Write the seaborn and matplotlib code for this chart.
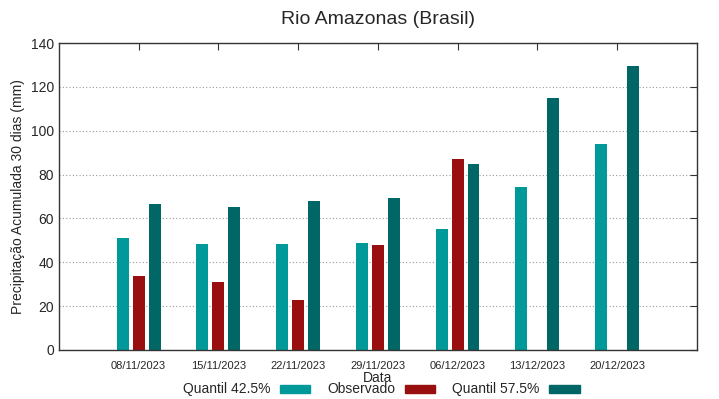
import seaborn as sns
import pandas as pd
import numpy as np
import matplotlib.pyplot as plt
from matplotlib.patches import Patch

datas = ["08/11/2023", "15/11/2023", "22/11/2023", "29/11/2023",
         "06/12/2023", "13/12/2023", "20/12/2023"]
q425 = [51.0, 48.3, 48.3, 48.6, 55.2, 74.5, 94.0]
observado = [33.7, 30.9, 22.8, 48.0, 87.0, np.nan, np.nan]
q575 = [66.5, 65.0, 68.0, 69.5, 84.7, 114.8, 129.4]
series = ["Quantil 42.5%", "Observado", "Quantil 57.5%"]
cores = ["#009999", "#990f0f", "#006666"]

df = pd.DataFrame({"Data": datas * 3,
                   "valor": q425 + observado + q575,
                   "serie": [s for s in series for _ in datas]})

sns.set_style("white")
plt.rcParams["font.family"] = ["Liberation Sans", "DejaVu Sans"]

fig = plt.figure(figsize=(7.19, 3.99), dpi=100)
ax = fig.add_axes([0.082, 0.123, 0.887, 0.769])
sns.barplot(data=df, x="Data", y="valor", hue="serie", hue_order=series,
            palette=cores, width=0.6, gap=0.25, saturation=1, ax=ax,
            legend=False, linewidth=0)

ax.set_xlim(-1, 7)
ax.set_ylim(0, 140)
ax.set_yticks(range(0, 141, 20))
ax.yaxis.grid(True, linestyle=(0, (1, 2)), color="#999999", linewidth=0.8)
ax.set_axisbelow(True)
ax.tick_params(axis="both", direction="in", top=True, right=True, length=5,
               color="#333333")
ax.tick_params(axis="x", labelsize=8, pad=8)
ax.tick_params(axis="y", labelsize=10)
for s in ax.spines.values():
    s.set_color("#333333")
    s.set_linewidth(1)

ax.set_title("Rio Amazonas (Brasil)", fontsize=14, pad=14)
ax.set_xlabel("Data", fontsize=10, labelpad=0)
ax.set_ylabel("Precipitação Acumulada 30 dias (mm)", fontsize=10)

handles = [Patch(color=c) for c in cores]
fig.legend(handles, series, loc="lower center", bbox_to_anchor=(0.53, -0.025),
           ncol=3, frameon=False, markerfirst=False, handlelength=2.2,
           handleheight=0.5, handletextpad=0.7, columnspacing=1.2,
           fontsize=10)

plt.savefig("out.png", dpi=100)
